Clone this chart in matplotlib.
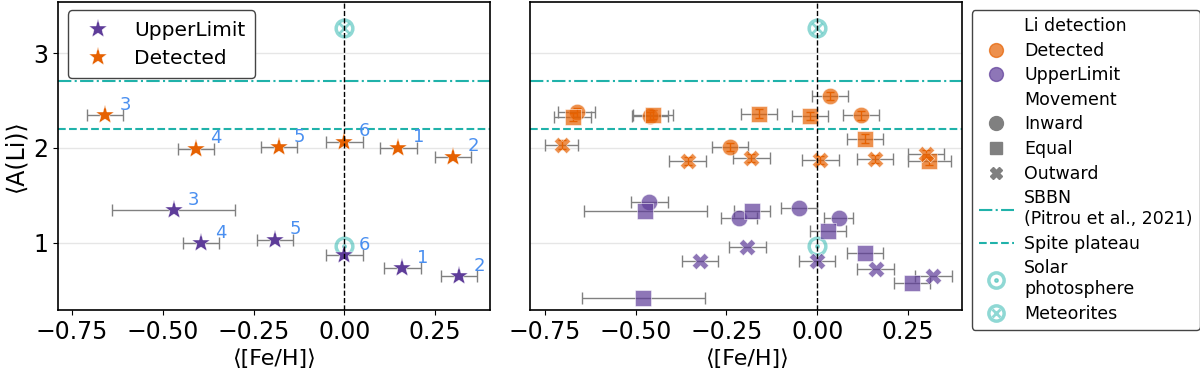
import matplotlib
matplotlib.use("Agg")
import matplotlib.pyplot as plt
from matplotlib.lines import Line2D
from matplotlib.legend_handler import HandlerTuple

# ---- left panel: mean values per group ----
grp_labels = ["1", "2", "3", "4", "5", "6"]
det_feh = [0.149, 0.299, -0.659, -0.409, -0.180, 0.0]
det_ali = [2.00, 1.905, 2.347, 1.99, 2.007, 2.066]
det_err = [0.05, 0.05, 0.05, 0.05, 0.05, 0.05]
ul_feh = [0.160, 0.316, -0.470, -0.395, -0.191, 0.0]
ul_ali = [0.73, 0.645, 1.34, 0.993, 1.03, 0.87]
ul_err = [0.05, 0.05, 0.17, 0.05, 0.05, 0.05]

# ---- right panel: split by movement ----
d_in_feh = [-0.663, -0.460, 0.035, 0.120, -0.241]
d_in_ali = [2.375, 2.337, 2.547, 2.344, 2.011]
d_in_err = [0.05, 0.05, 0.05, 0.05, 0.05]
d_eq_feh = [-0.674, -0.453, -0.161, -0.020, 0.131, 0.309]
d_eq_ali = [2.326, 2.351, 2.361, 2.337, 2.098, 1.863]
d_eq_err = [0.05, 0.055, 0.05, 0.05, 0.05, 0.06]
d_out_feh = [-0.704, -0.357, -0.181, 0.009, 0.160, 0.300]
d_out_ali = [2.035, 1.863, 1.891, 1.874, 1.881, 1.930]
d_out_err = [0.046, 0.05, 0.05, 0.05, 0.05, 0.05]

u_in_feh = [-0.462, -0.050, -0.216, 0.060]
u_in_ali = [1.428, 1.361, 1.260, 1.256]
u_in_err = [0.05, 0.05, 0.05, 0.04]
u_eq_feh = [-0.473, -0.180, 0.030, 0.131, 0.261, -0.479]
u_eq_ali = [1.337, 1.337, 1.123, 0.895, 0.572, 0.414]
u_eq_err = [0.17, 0.05, 0.05, 0.05, 0.05, 0.17]
u_out_feh = [-0.192, -0.322, 0.0, 0.161, 0.320]
u_out_ali = [0.951, 0.811, 0.811, 0.719, 0.649]
u_out_err = [0.05, 0.05, 0.05, 0.05, 0.05]

sbbn = 2.70
spite = 2.20
solar = 0.96
meteor = 3.26

orange = "#e66101"
purple = "#5e3c99"
teal = "#20b2aa"
lab_col = "#4a8ff0"

fig = plt.figure(figsize=(12, 3.73), dpi=100)
ax1 = fig.add_axes([0.048, 0.169, 0.360, 0.826])
ax2 = fig.add_axes([0.442, 0.169, 0.360, 0.826])

for ax in (ax1, ax2):
    ax.set_xlim(-0.79, 0.40)
    ax.set_ylim(0.29, 3.54)
    ax.set_yticks([1, 2, 3])
    ax.set_xticks([-0.75, -0.5, -0.25, 0.0, 0.25])
    ax.grid(axis="y", color="#e6e6e6", lw=1, zorder=0)
    ax.axhline(sbbn, color=teal, ls="-.", lw=1.5, zorder=1)
    ax.axhline(spite, color=teal, ls="--", lw=1.5, zorder=1)
    ax.axvline(0, color="black", ls="--", lw=1, zorder=10)
    ax.plot(0, solar, "o", ms=12, mfc="none", mec=teal, mew=2.5, alpha=0.5, zorder=2)
    ax.plot(0, solar, ".", ms=5, color=teal, alpha=0.5, zorder=2)
    ax.plot(0, meteor, "o", ms=12, mfc="none", mec=teal, mew=2.5, alpha=0.5, zorder=2)
    ax.plot(0, meteor, "x", ms=7, mew=2, color=teal, alpha=0.5, zorder=2)
    ax.tick_params(labelsize=17)
    ax.set_xlabel("⟨[Fe/H]⟩", fontsize=16)
    for s in ax.spines.values():
        s.set_linewidth(1.2)

ax1.set_ylabel("⟨A(Li)⟩", fontsize=17)
ax2.tick_params(left=False, labelleft=False)

# left panel
ax1.errorbar(ul_feh, ul_ali, xerr=ul_err, fmt="none", ecolor="grey", capsize=4, lw=1, zorder=3)
ax1.errorbar(det_feh, det_ali, xerr=det_err, fmt="none", ecolor="grey", capsize=4, lw=1, zorder=3)
ax1.plot(ul_feh, ul_ali, "*", ms=14, color=purple, mec="white", mew=0.3, ls="none", zorder=4, label="UpperLimit")
ax1.plot(det_feh, det_ali, "*", ms=14, color=orange, mec="white", mew=0.3, ls="none", zorder=4, label="Detected")
for xs, ys in ((det_feh, det_ali), (ul_feh, ul_ali)):
    for lab, x, y in zip(grp_labels, xs, ys):
        ax1.text(x + 0.055, y + 0.11, lab, color=lab_col, fontsize=13, ha="center", va="center")
ax1.legend(loc="upper left", fontsize=14.5, handletextpad=0.8, borderpad=0.5, labelspacing=0.45,
           edgecolor="#444444", framealpha=1, bbox_to_anchor=(0.023, 0.972), borderaxespad=0)

# right panel
groups = [
    (d_in_feh, d_in_ali, d_in_err, "o", orange, True),
    (d_eq_feh, d_eq_ali, d_eq_err, "s", orange, True),
    (d_out_feh, d_out_ali, d_out_err, "X", orange, True),
    (u_in_feh, u_in_ali, u_in_err, "o", purple, False),
    (u_eq_feh, u_eq_ali, u_eq_err, "s", purple, False),
    (u_out_feh, u_out_ali, u_out_err, "X", purple, False),
]
for xs, ys, er, mk, col, det in groups:
    ax2.errorbar(xs, ys, xerr=er, fmt="none", ecolor="grey", capsize=4, lw=1, zorder=3)
    if det:
        ax2.errorbar(xs, ys, yerr=0.045, fmt="none", ecolor=orange, capsize=3, lw=1, zorder=3)
    ax2.scatter(xs, ys, s=140, marker=mk, color=col, alpha=0.7, edgecolor="white", lw=0.5, zorder=4)

# right legend
blank = Line2D([], [], ls="none")
h_det = Line2D([], [], ls="none", marker="o", ms=10, color=orange, alpha=0.7)
h_ul = Line2D([], [], ls="none", marker="o", ms=10, color=purple, alpha=0.7)
h_in = Line2D([], [], ls="none", marker="o", ms=10, color="grey")
h_eq = Line2D([], [], ls="none", marker="s", ms=9, color="grey")
h_out = Line2D([], [], ls="none", marker="X", ms=9, color="grey")
h_sbbn = Line2D([], [], color=teal, ls="-.", lw=1.5)
h_spite = Line2D([], [], color=teal, ls="--", lw=1.5)
h_sol = (Line2D([], [], ls="none", marker="o", ms=11, mfc="none", mec=teal, mew=2.5, alpha=0.5),
         Line2D([], [], ls="none", marker=".", ms=5, color=teal, alpha=0.5))
h_met = (Line2D([], [], ls="none", marker="o", ms=11, mfc="none", mec=teal, mew=2.5, alpha=0.5),
         Line2D([], [], ls="none", marker="x", ms=6, mew=2, color=teal, alpha=0.5))
handles = [blank, h_det, h_ul, blank, h_in, h_eq, h_out, h_sbbn, h_spite, h_sol, h_met]
labels = ["Li detection", "Detected", "UpperLimit", "Movement", "Inward", "Equal", "Outward",
          "SBBN\n(Pitrou et al., 2021)", "Spite plateau", "Solar\nphotosphere", "Meteorites"]
fig.legend(handles, labels, loc="upper left", bbox_to_anchor=(0.81, 0.973), fontsize=12.5,
           handler_map={tuple: HandlerTuple(ndivide=1, pad=0)}, edgecolor="#444444",
           framealpha=1, labelspacing=0.38, borderpad=0.4, handletextpad=0.6, borderaxespad=0)

fig.savefig("out.png", dpi=100)
